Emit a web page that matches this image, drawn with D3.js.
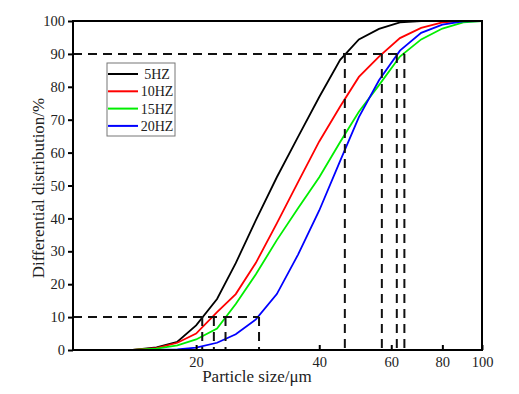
<!DOCTYPE html>
<html lang="en">
<head>
    <meta charset="UTF-8">
    <title>particle size distribution</title>
    <script src="https://d3js.org/d3.v7.min.js"></script>
    <style>
        body{
            margin: 0;
            background: #ffffff;
        }
        text{
            font-family: "Liberation Serif", "Times New Roman", serif;
            fill: #222;
        }
    </style>
</head>
<body>
<svg id="main" width="519" height="394"></svg>
<script>
    // particle sizes (um) where the cumulative curves are read
    let sizes = [10, 14, 16, 18, 20, 22.5, 25, 28, 31.5, 35.5, 40, 45, 50, 56, 63, 71, 80, 90, 100]
    let hz5  = [0, 0, 0.8, 2.5, 7.5, 15.5, 26.4, 39.5, 52.5, 64.8, 76.9, 88.2, 94.4, 97.6, 99.6, 100, 100, 100, 100]
    let hz10 = [0, 0, 0.6, 2.2, 5, 11.5, 17, 26.5, 38.5, 51, 63.4, 74, 83, 89.2, 94.8, 97.9, 99.6, 100, 100]
    let hz15 = [0, 0, 0.4, 1.4, 3.2, 6.5, 14, 23, 33.4, 43.1, 52.5, 63.2, 72.4, 80.5, 89.2, 94.4, 97.7, 99.6, 100]
    let hz20 = [0, 0, 0, 0.2, 0.7, 2.2, 4.8, 9.3, 17, 29, 42.4, 57.5, 70.8, 82, 91, 96.4, 98.9, 99.9, 100]
    let seriesNames = ["5HZ", "10HZ", "15HZ", "20HZ"]
    let seriesColors = ["#000000", "#ff0000", "#00ee00", "#0000ff"]
    // D10 and D90 values for each series
    let d10 = [20.7, 22.1, 23.6, 28.5]
    let d90 = [46.2, 56.9, 61.9, 64.6]
    let xTicks = [20, 40, 60, 80, 100]
    let yTicks = [0, 10, 20, 30, 40, 50, 60, 70, 80, 90, 100]

    let svg = d3.select("#main")
    let mLeft = 73, mRight = 482, mTop = 21, mBottom = 350

    let x = d3.scaleLog().domain([10, 100]).range([mLeft, mRight])
    let y = d3.scaleLinear().domain([0, 100]).range([mBottom, mTop])

    // curves
    let allSeries = [hz5, hz10, hz15, hz20]
    let line = d3.line()
        .x((d, i) => x(sizes[i]))
        .y(d => y(d))
    allSeries.forEach(function (s, k) {
        svg.append("path")
            .attr("d", line(s))
            .attr("fill", "none")
            .attr("stroke", seriesColors[k])
            .attr("stroke-width", 1.8)
    })

    // dashed guides for D10 / D90
    let dash = "9,6"
    function guides(levels, level) {
        svg.append("line")
            .attr("x1", x(10)).attr("x2", x(d3.max(levels)))
            .attr("y1", y(level)).attr("y2", y(level))
            .attr("stroke", "#111").attr("stroke-width", 2)
            .attr("stroke-dasharray", dash)
        levels.forEach(function (v) {
            svg.append("line")
                .attr("x1", x(v)).attr("x2", x(v))
                .attr("y1", y(level)).attr("y2", y(0))
                .attr("stroke", "#111").attr("stroke-width", 2)
                .attr("stroke-dasharray", dash)
        })
    }
    guides(d10, 10)
    guides(d90, 90)

    // frame
    svg.append("rect")
        .attr("x", mLeft).attr("y", mTop)
        .attr("width", mRight - mLeft).attr("height", mBottom - mTop)
        .attr("fill", "none")
        .attr("stroke", "#000")
        .attr("stroke-width", 2)

    // y axis ticks, pointing out
    let yAxis = svg.append("g")
        .attr("transform", "translate(" + mLeft + ",0)")
        .call(d3.axisLeft(y).tickValues(yTicks).tickSize(5).tickPadding(3).tickFormat(d3.format("d")))
    yAxis.select(".domain").remove()
    yAxis.selectAll("line").attr("stroke-width", 2)
    yAxis.selectAll("text").style("font-size", "14.5px").style("font-family", "Liberation Serif")

    // x axis ticks, pointing in
    let xAxis = svg.append("g")
        .attr("transform", "translate(0," + mBottom + ")")
        .call(d3.axisBottom(x).tickValues(xTicks).tickSizeInner(-5).tickSizeOuter(0).tickPadding(7).tickFormat(d3.format("d")))
    xAxis.select(".domain").remove()
    xAxis.selectAll("line").attr("stroke-width", 2)
    xAxis.selectAll("text").style("font-size", "14.5px").style("font-family", "Liberation Serif")

    // axis titles
    svg.append("text")
        .attr("x", 257)
        .attr("y", 382)
        .attr("text-anchor", "middle")
        .style("font-size", "17px")
        .text("Particle size/μm")
    svg.append("text")
        .attr("transform", "translate(44,188) rotate(-90)")
        .attr("text-anchor", "middle")
        .style("font-size", "17px")
        .text("Differential distribution/%")

    // legend
    let legend = svg.append("g").attr("transform", "translate(107,63)")
    legend.append("rect")
        .attr("width", 68).attr("height", 73)
        .attr("fill", "#fff")
        .attr("stroke", "#777")
        .attr("stroke-width", 1)
    seriesNames.forEach(function (name, k) {
        let ly = 11 + k * 17.3
        legend.append("line")
            .attr("x1", 1).attr("x2", 31)
            .attr("y1", ly).attr("y2", ly)
            .attr("stroke", seriesColors[k])
            .attr("stroke-width", 2)
        legend.append("text")
            .attr("x", 50).attr("y", ly + 5)
            .attr("text-anchor", "middle")
            .style("font-size", "14px")
            .text(name)
    })
</script>
</body>
</html>
